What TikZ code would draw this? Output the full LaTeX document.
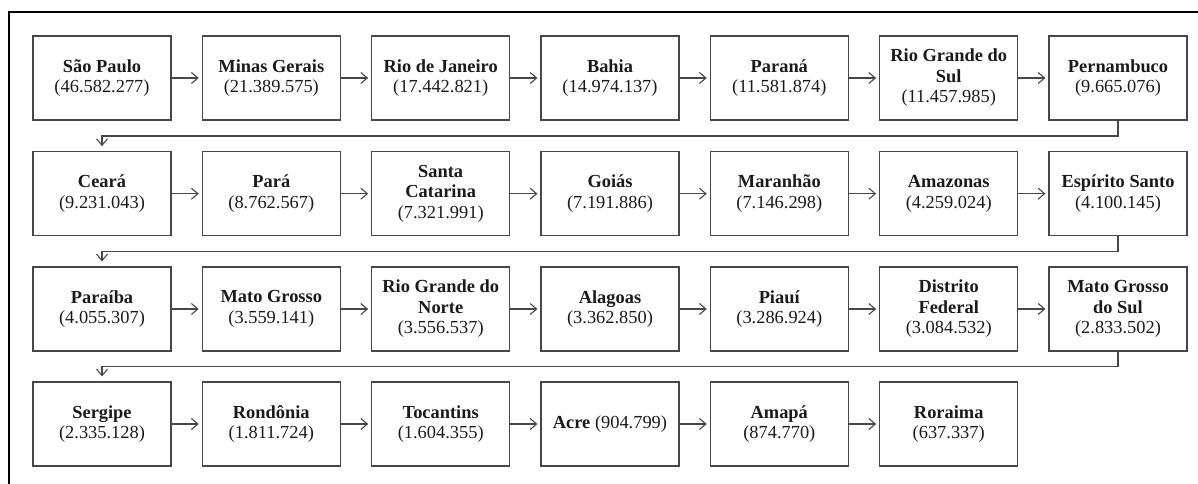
\documentclass[tikz,border=0pt]{standalone}
\usepackage{fontspec}
\setmainfont{Liberation Serif}
\usetikzlibrary{arrows.meta}
\definecolor{edge}{HTML}{474747}
\definecolor{ink}{HTML}{1A1A1A}
\tikzset{
  state/.style={draw=edge, line width=1.1pt, minimum width=138pt, minimum height=84pt,
    inner sep=0pt, align=center, text=ink,
    font=\fontsize{18.4}{20.5}\selectfont},
  flow/.style={draw=edge, line width=1.1pt, -{Straight Barb[length=6.5pt,width=11pt]}},
  hop/.style={flow, shorten >=3pt},
  wrap/.style={flow, shorten >=5pt},
  frame/.style={draw=black, line width=2pt}
}
\begin{document}
\begin{tikzpicture}[x=1pt,y=-1pt]
\useasboundingbox (0,0) rectangle (1198,484);
\clip (0,0) rectangle (1198,484);
\draw[frame] (8.5,500) -- (8.5,12.5) -- (1210,12.5);

% row 1
\node[state] (n1)  at (102.0,78) {\textbf{São Paulo}\\(46.582.277)};
\node[state] (n2)  at (271.3,78) {\textbf{Minas Gerais}\\(21.389.575)};
\node[state] (n3)  at (440.7,78) {\textbf{Rio de Janeiro}\\(17.442.821)};
\node[state] (n4)  at (610.0,78) {\textbf{Bahia}\\(14.974.137)};
\node[state] (n5)  at (779.3,78) {\textbf{Paraná}\\(11.581.874)};
\node[state] (n6)  at (948.7,78) {\textbf{Rio Grande do}\\\textbf{Sul}\\(11.457.985)};
\node[state] (n7)  at (1118.0,78) {\textbf{Pernambuco}\\(9.665.076)};
% row 2
\node[state] (n8)  at (102.0,193.7) {\textbf{Ceará}\\(9.231.043)};
\node[state] (n9)  at (271.3,193.7) {\textbf{Pará}\\(8.762.567)};
\node[state] (n10) at (440.7,193.7) {\textbf{Santa}\\\textbf{Catarina}\\(7.321.991)};
\node[state] (n11) at (610.0,193.7) {\textbf{Goiás}\\(7.191.886)};
\node[state] (n12) at (779.3,193.7) {\textbf{Maranhão}\\(7.146.298)};
\node[state] (n13) at (948.7,193.7) {\textbf{Amazonas}\\(4.259.024)};
\node[state] (n14) at (1118.0,193.7) {\textbf{Espírito Santo}\\(4.100.145)};
% row 3
\node[state] (n15) at (102.0,309) {\textbf{Paraíba}\\(4.055.307)};
\node[state] (n16) at (271.3,309) {\textbf{Mato Grosso}\\(3.559.141)};
\node[state] (n17) at (440.7,309) {\textbf{Rio Grande do}\\\textbf{Norte}\\(3.556.537)};
\node[state] (n18) at (610.0,309) {\textbf{Alagoas}\\(3.362.850)};
\node[state] (n19) at (779.3,309) {\textbf{Piauí}\\(3.286.924)};
\node[state] (n20) at (948.7,309) {\textbf{Distrito}\\\textbf{Federal}\\(3.084.532)};
\node[state] (n21) at (1118.0,309) {\textbf{Mato Grosso}\\\textbf{do Sul}\\(2.833.502)};
% row 4
\node[state] (n22) at (102.0,424) {\textbf{Sergipe}\\(2.335.128)};
\node[state] (n23) at (271.3,424) {\textbf{Rondônia}\\(1.811.724)};
\node[state] (n24) at (440.7,424) {\textbf{Tocantins}\\(1.604.355)};
\node[state] (n25) at (610.0,424) {\textbf{Acre} (904.799)};
\node[state] (n26) at (779.3,424) {\textbf{Amapá}\\(874.770)};
\node[state] (n27) at (948.7,424) {\textbf{Roraima}\\(637.337)};

% horizontal links
\foreach \a/\b in {1/2,2/3,3/4,4/5,5/6,6/7,
                   8/9,9/10,10/11,11/12,12/13,13/14,
                   15/16,16/17,17/18,18/19,19/20,20/21,
                   22/23,23/24,24/25,25/26,26/27}
  \draw[hop] (n\a) -- (n\b);

% row-wrapping links
\coordinate (e1) at (0,136);
\coordinate (e2) at (0,251.5);
\coordinate (e3) at (0,366.5);
\draw[wrap] (n7.south)  |- (e1 -| n8)  -- (n8.north);
\draw[wrap] (n14.south) |- (e2 -| n15) -- (n15.north);
\draw[wrap] (n21.south) |- (e3 -| n22) -- (n22.north);
\end{tikzpicture}
\end{document}
